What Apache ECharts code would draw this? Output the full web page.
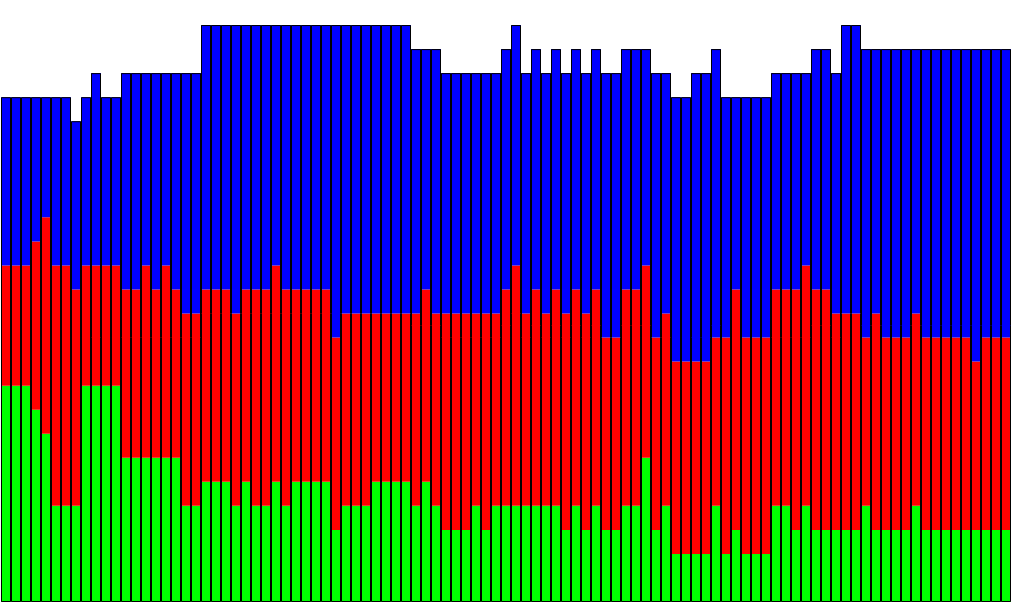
<!DOCTYPE html>
<html>
<head>
<meta charset="utf-8">
<script src="https://cdn.jsdelivr.net/npm/echarts@6/dist/echarts.min.js"></script>
<style>
html,body{margin:0;padding:0;background:#fff;}
#chart{width:1012px;height:602px;}
</style>
</head>
<body>
<div id="chart"></div>
<script>
var categories = [
  '1','2','3','4','5','6','7','8','9','10','11','12','13','14','15','16','17','18','19','20',
  '21','22','23','24','25','26','27','28','29','30','31','32','33','34','35','36','37','38','39','40',
  '41','42','43','44','45','46','47','48','49','50','51','52','53','54','55','56','57','58','59','60',
  '61','62','63','64','65','66','67','68','69','70','71','72','73','74','75','76','77','78','79','80',
  '81','82','83','84','85','86','87','88','89','90','91','92','93','94','95','96','97','98','99','100','101'
];
var greenValues = [
  9,9,9,8,7,4,4,4,9,9, 9,9,6,6,6,6,6,6,4,4,
  5,5,5,4,5,4,4,5,4,5, 5,5,5,3,4,4,4,5,5,5,
  5,4,5,4,3,3,3,4,3,4, 4,4,4,4,4,4,3,4,3,4,
  3,3,4,4,6,3,4,2,2,2, 2,4,2,3,2,2,2,4,4,3,
  4,3,3,3,3,3,4,3,3,3, 3,4,3,3,3,3,3,3,3,3,3
];
var redValues = [
  5,5,5,7,9,10,10,9,5,5, 5,5,7,7,8,7,8,7,8,8,
  8,8,8,8,8,9,9,9,9,8, 8,8,8,8,8,8,8,7,7,7,
  7,8,8,8,9,9,9,8,9,8, 9,10,8,9,8,9,9,9,9,9,
  8,8,9,9,8,8,8,8,8,8, 8,7,9,10,9,9,9,9,9,10,
  10,10,10,9,9,9,7,9,8,8, 8,8,8,8,8,8,8,7,8,8,8
];
var blueValues = [
  7,7,7,6,5,7,7,7,7,8, 7,7,9,9,8,9,8,9,10,10,
  11,11,11,12,11,11,11,10,11,11, 11,11,11,13,12,12,12,12,12,12,
  12,11,10,11,10,10,10,10,10,10, 10,10,10,10,10,10,10,10,10,10,
  11,11,10,10,9,11,10,11,11,12, 12,12,10,8,10,10,10,9,9,9,
  8,10,10,10,12,12,12,11,12,12, 12,11,12,12,12,12,12,13,12,12,12
];

var totals = greenValues.map(function (g, i) { return g + redValues[i] + blueValues[i]; });

var chart = echarts.init(document.getElementById('chart'), null, {renderer: 'canvas'});
chart.setOption({
  animation: false,
  backgroundColor: '#ffffff',
  grid: {left: 1, right: 1, top: 1, bottom: 0, containLabel: false},
  xAxis: {
    type: 'category',
    data: categories,
    show: false
  },
  yAxis: {
    type: 'value',
    min: 0,
    max: 25,
    show: false,
    splitLine: {show: false}
  },
  series: [
    {name: 'green', type: 'bar', stack: 's', data: greenValues, barCategoryGap: 0, barGap: '-100%',
     itemStyle: {color: '#00ff00', borderWidth: 0}},
    {name: 'red', type: 'bar', stack: 's', data: redValues, barCategoryGap: 0, barGap: '-100%',
     itemStyle: {color: '#ff0000', borderWidth: 0}},
    {name: 'blue', type: 'bar', stack: 's', data: blueValues, barCategoryGap: 0, barGap: '-100%',
     itemStyle: {color: '#0000ff', borderWidth: 0}},
    {name: 'outline', type: 'bar', data: totals, barCategoryGap: 0, barGap: '-100%', z: 5,
     itemStyle: {color: 'rgba(0,0,0,0)', borderColor: '#000000', borderWidth: 1}}
  ]
});
</script>
</body>
</html>
